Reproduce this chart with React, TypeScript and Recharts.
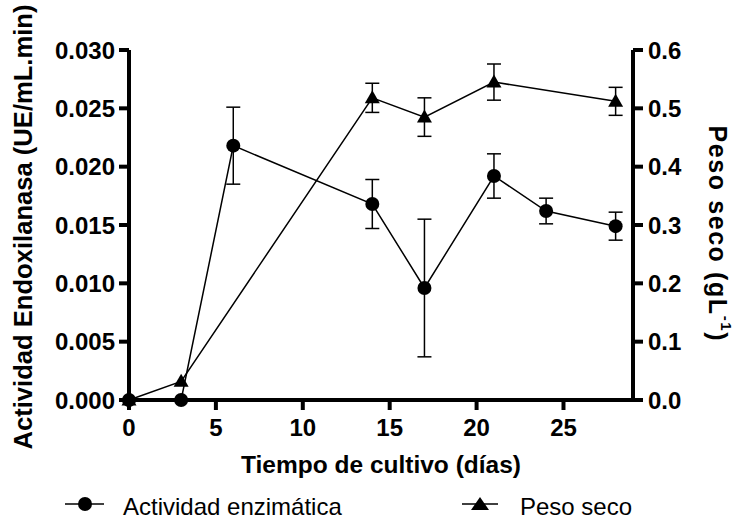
import {
  ComposedChart,
  ErrorBar,
  Legend,
  Line,
  XAxis,
  YAxis,
} from "recharts";

// días de cultivo
const dias = [0, 3, 6, 14, 17, 21, 24, 28];
// actividad endoxilanasa (UE/mL.min) y su error
const actividad = [0, 0, 0.0218, 0.0168, 0.0096, 0.0192, 0.0162, 0.0149];
const actividadErr = [null, null, 0.0033, 0.0021, 0.0059, 0.0019, 0.0011, 0.0012];
// peso seco (g/L) y su error
const pesoSeco = [0, 0.032, null, 0.518, 0.485, 0.545, null, 0.512];
const pesoSecoErr = [null, null, null, 0.025, 0.033, 0.031, null, 0.024];

const xTicks = [0, 5, 10, 15, 20, 25];
const leftTicks = [0, 0.005, 0.01, 0.015, 0.02, 0.025, 0.03];
const rightTicks = [0, 0.1, 0.2, 0.3, 0.4, 0.5, 0.6];

const rows = dias.map((d, i) => ({
  dia: d,
  act: actividad[i],
  actErr: actividadErr[i],
  peso: pesoSeco[i],
  pesoErr: pesoSecoErr[i],
}));

const FONT = "'Liberation Sans', Arial, Helvetica, sans-serif";
const TICK = { fill: "#000", fontSize: 24, fontWeight: "bold", fontFamily: FONT };
const AXIS = { stroke: "#000", strokeWidth: 4 };

function Triangle(props: any) {
  const { cx, cy, index } = props;
  if (cx == null || cy == null) return <g key={`t-${index}`} />;
  return (
    <path
      key={`t-${index}`}
      d={`M${cx},${cy - 7.5} L${cx + 7.5},${cy + 5.5} L${cx - 7.5},${cy + 5.5} Z`}
      fill="#000"
    />
  );
}

// the reference is a little stretched vertically, so the rotated titles are
// forced to their measured length
function LeftTitle(props: any) {
  const { viewBox } = props;
  const x = viewBox.x + 23;
  const y = viewBox.y + viewBox.height / 2 + 2;
  return (
    <text
      x={x}
      y={y}
      transform={`rotate(-90 ${x} ${y})`}
      textAnchor="middle"
      dominantBaseline="central"
      fontFamily={FONT}
      fontWeight="bold"
      fontSize={25}
      fill="#000"
      textLength={445}
      lengthAdjust="spacingAndGlyphs"
    >
      Actividad Endoxilanasa (UE/mL.min)
    </text>
  );
}

function RightTitle(props: any) {
  const { viewBox } = props;
  const x = viewBox.x + 85;
  const y = viewBox.y + viewBox.height / 2 + 8;
  return (
    <text
      x={x}
      y={y}
      transform={`rotate(90 ${x} ${y})`}
      textAnchor="middle"
      dominantBaseline="central"
      fontFamily={FONT}
      fontWeight="bold"
      fontSize={25}
      fill="#000"
      textLength={215}
      lengthAdjust="spacing"
    >
      Peso seco (gL
      <tspan dy={-9} fontSize={15}>
        -1
      </tspan>
      <tspan dy={9}>)</tspan>
    </text>
  );
}

function BottomTitle(props: any) {
  const { viewBox } = props;
  return (
    <text
      x={viewBox.x + viewBox.width / 2}
      y={viewBox.y + 73}
      textAnchor="middle"
      fontFamily={FONT}
      fontWeight="bold"
      fontSize={24.5}
      fill="#000"
    >
      Tiempo de cultivo (días)
    </text>
  );
}

function LegendBox() {
  return (
    <svg width={740} height={36} style={{ display: "block" }}>
      <line x1={65} x2={104} y1={19} y2={19} stroke="#000" strokeWidth={1.5} />
      <circle cx={85} cy={19} r={7} fill="#000" />
      <text x={123} y={30} fontFamily={FONT} fontSize={24} fill="#000">
        Actividad enzimática
      </text>
      <line x1={462} x2={498} y1={19} y2={19} stroke="#000" strokeWidth={1.5} />
      <path d="M480,12 L489,25 L471,25 Z" fill="#000" />
      <text x={520} y={30} fontFamily={FONT} fontSize={24} fill="#000">
        Peso seco
      </text>
    </svg>
  );
}

export default function App() {
  return (
    <div style={{ position: "absolute", left: 0, top: 0, width: 740, height: 525, background: "#fff" }}>
      <ComposedChart
        width={740}
        height={525}
        data={rows}
        margin={{ top: 50, right: 0, bottom: 45, left: 0 }}
      >
        <XAxis
          dataKey="dia"
          type="number"
          domain={[0, 29]}
          ticks={xTicks}
          height={80}
          axisLine={AXIS}
          tickLine={AXIS}
          tickSize={10}
          tickMargin={9}
          tick={TICK}
          label={<BottomTitle />}
        />
        <YAxis
          yAxisId="left"
          orientation="left"
          domain={[0, 0.03]}
          ticks={leftTicks}
          tickFormatter={(v: number) => v.toFixed(3)}
          width={129}
          axisLine={AXIS}
          tickLine={AXIS}
          tickSize={10}
          tickMargin={4}
          tick={TICK}
          label={<LeftTitle />}
        />
        <YAxis
          yAxisId="right"
          orientation="right"
          domain={[0, 0.6]}
          ticks={rightTicks}
          tickFormatter={(v: number) => v.toFixed(1)}
          width={107}
          axisLine={AXIS}
          tickLine={AXIS}
          tickSize={10}
          tickMargin={5}
          tick={{ ...TICK, textAnchor: "start" }}
          label={<RightTitle />}
        />
        <Line
          yAxisId="left"
          dataKey="act"
          stroke="#000"
          strokeWidth={1.5}
          dot={{ r: 7, fill: "#000", stroke: "#000", strokeWidth: 0 }}
          activeDot={false}
          isAnimationActive={false}
        >
          <ErrorBar dataKey="actErr" width={7} stroke="#000" strokeWidth={1.5} direction="y" />
        </Line>
        <Line
          yAxisId="right"
          dataKey="peso"
          stroke="#000"
          strokeWidth={1.5}
          connectNulls
          dot={<Triangle />}
          activeDot={false}
          isAnimationActive={false}
        >
          <ErrorBar dataKey="pesoErr" width={7} stroke="#000" strokeWidth={1.5} direction="y" />
        </Line>
        <Legend
          layout="horizontal"
          verticalAlign="middle"
          align="center"
          content={<LegendBox />}
          wrapperStyle={{ top: 485, left: 0, width: 740, height: 36 }}
        />
      </ComposedChart>
    </div>
  );
}
